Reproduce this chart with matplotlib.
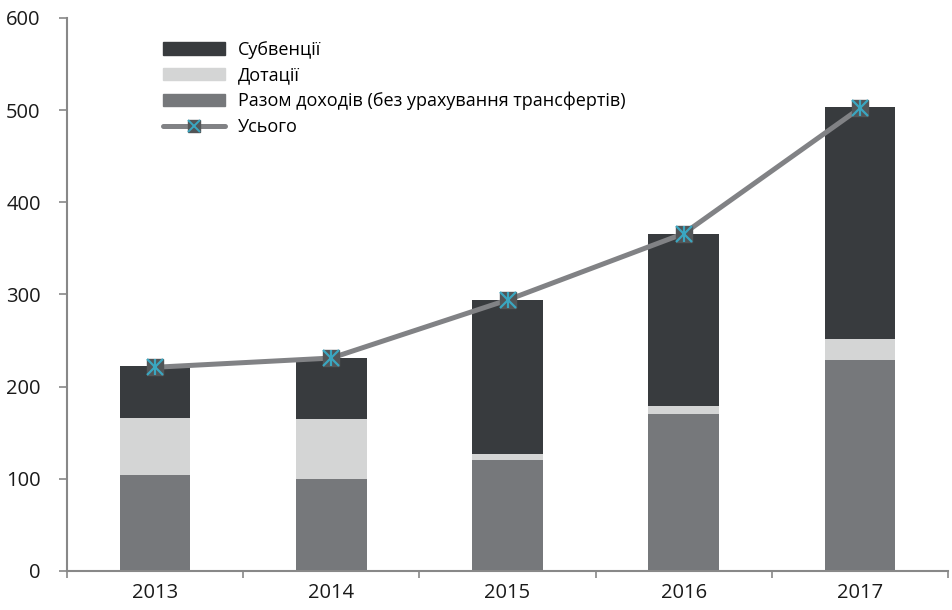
import matplotlib
matplotlib.use("Agg")
import matplotlib.pyplot as plt
from matplotlib.legend_handler import HandlerTuple
from matplotlib.lines import Line2D
from matplotlib.patches import Patch
import numpy as np

plt.rcParams['font.family'] = ['Open Sans', 'DejaVu Sans']

years = ['2013', '2014', '2015', '2016', '2017']
own_revenue = [104, 100, 120, 170, 229]
grants = [62, 65, 7, 9, 23]
subventions = [56, 66, 167, 187, 251]
total = [221, 231, 294, 366, 502]

c_sub = '#383b3e'
c_dot = '#d4d5d5'
c_own = '#76787b'
c_line = '#818285'
c_mark = '#3aa6c0'
c_sq = '#525557'

fig = plt.figure(figsize=(9.52, 6.10), dpi=100)
ax = fig.add_axes([0.0704, 0.064, 0.9254, 0.9066])

x = np.arange(len(years))
w = 0.4
own = np.array(own_revenue)
dot = np.array(grants)
sub = np.array(subventions)
ax.bar(x, own, w, color=c_own, zorder=2)
ax.bar(x, dot, w, bottom=own, color=c_dot, zorder=2)
ax.bar(x, sub, w, bottom=own + dot, color=c_sub, zorder=2)

ax.plot(x, total, color=c_line, lw=3.6, zorder=3, solid_capstyle='round')
ax.plot(x, total, ls='none', marker='s', ms=11, mfc=c_sq, mec=c_sq, zorder=4)
ax.plot(x, total, ls='none', marker='x', ms=11, mew=1.6, color=c_mark, zorder=5)
ax.plot(x, total, ls='none', marker='|', ms=11, mew=1.6, color=c_mark, zorder=5)

ax.set_xlim(-0.5, 4.5)
ax.set_ylim(0, 600)
ax.set_yticks(range(0, 601, 100))
ax.set_xticks(x)
ax.set_xticklabels(years)
ax.set_xticks(np.arange(-0.5, 4.6, 1), minor=True)
ax.tick_params(axis='x', which='major', length=0, labelsize=14.5, pad=9, labelcolor='#1a1a1a')
ax.tick_params(axis='x', which='minor', length=5, width=1.2, color='#888888', direction='out')
ax.tick_params(axis='y', length=6, width=1.2, color='#888888', labelsize=14.5, pad=13, labelcolor='#1a1a1a')
for s in ['top', 'right']:
    ax.spines[s].set_visible(False)
for s in ['left', 'bottom']:
    ax.spines[s].set_color('#888888')
    ax.spines[s].set_linewidth(1.5)

h_sub = Patch(color=c_sub)
h_dot = Patch(color=c_dot)
h_own = Patch(color=c_own)
h_line = (Line2D([], [], color=c_line, lw=3.6, solid_capstyle='round'),
          Line2D([], [], ls='none', marker='s', ms=8, mfc=c_sq, mec=c_sq),
          Line2D([], [], ls='none', marker='x', ms=8, mew=1.4, color=c_mark))
leg = ax.legend([h_sub, h_dot, h_own, h_line],
                ['Субвенції', 'Дотації', 'Разом доходів (без урахування трансфертів)', 'Усього'],
                handler_map={tuple: HandlerTuple(ndivide=1, pad=0)},
                loc='upper left', bbox_to_anchor=(0.1007, 0.972), frameon=False,
                fontsize=13, handlelength=3.45, handleheight=0.7, handletextpad=0.7,
                labelspacing=0.42, borderaxespad=0)

fig.savefig('out.png', dpi=100)
